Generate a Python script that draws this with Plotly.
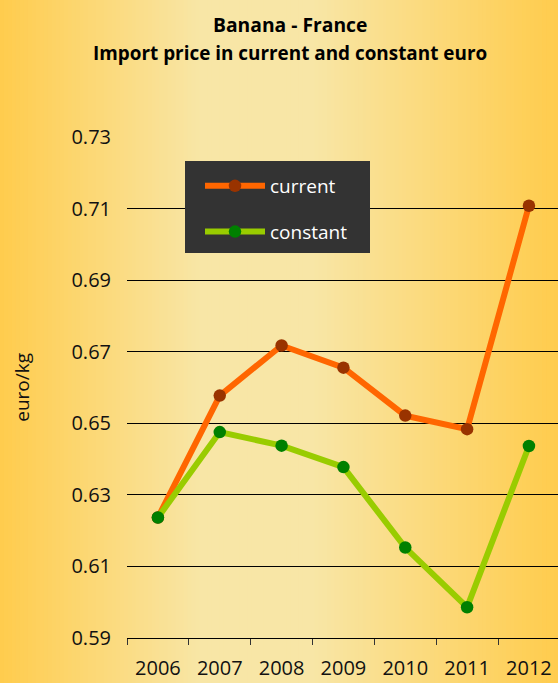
import plotly.graph_objects as go

years = ["2006", "2007", "2008", "2009", "2010", "2011", "2012"]
current = [0.6237, 0.6578, 0.6718, 0.6656, 0.6522, 0.6484, 0.7109]
constant = [0.6237, 0.6476, 0.6438, 0.6378, 0.6153, 0.5986, 0.6437]
y_ticks = [0.59, 0.61, 0.63, 0.65, 0.67, 0.69, 0.71, 0.73]

W, H = 558, 683

fig = go.Figure()
fig.add_trace(go.Scatter(
    x=years, y=current, name="current", mode="lines+markers",
    line=dict(color="#FF6600", width=6),
    marker=dict(color="#993300", size=12.5),
    legendgroup="a",
))
fig.add_trace(go.Scatter(
    x=years, y=constant, name="constant", mode="lines+markers",
    line=dict(color="#99CC00", width=6),
    marker=dict(color="#008000", size=12.5),
    legendgroup="b",
))

# horizontal background gradient (orange edges, pale yellow centre)
stops = [(0.0, (255, 204, 77)), (0.36, (248, 230, 166)), (0.56, (248, 230, 166)), (1.0, (255, 204, 77))]

def col(t):
    for (t0, c0), (t1, c1) in zip(stops[:-1], stops[1:]):
        if t0 <= t <= t1:
            f = (t - t0) / (t1 - t0) if t1 > t0 else 0
            return "rgb(%d,%d,%d)" % tuple(round(a + (b - a) * f) for a, b in zip(c0, c1))
    return "rgb(%d,%d,%d)" % stops[-1][1]

n = 140
shapes = []
for i in range(n):
    x0 = i / n
    x1 = (i + 1) / n
    shapes.append(dict(type="rect", xref="paper", yref="paper", x0=x0, x1=x1 + 0.002,
                       y0=0, y1=1, fillcolor=col((x0 + x1) / 2), line=dict(width=0),
                       layer="below"))

# dark legend panel (the legend itself is drawn on top of it)
shapes.append(dict(type="rect", xref="paper", yref="paper",
                   x0=185 / W, x1=370 / W, y0=1 - 253 / H, y1=1 - 161 / H,
                   fillcolor="#333333", line=dict(width=0), layer="above"))

fig.update_layout(
    width=W, height=H,
    margin=dict(l=0, r=0, t=0, b=0, autoexpand=False),
    paper_bgcolor="rgb(255,204,77)",
    plot_bgcolor="rgba(0,0,0,0)",
    shapes=shapes,
    font=dict(family="Open Sans", color="#111111"),
    showlegend=True,
    legend=dict(
        x=200 / W, y=1 - 167 / H, xanchor="left", yanchor="top",
        bgcolor="rgba(0,0,0,0)", borderwidth=0,
        font=dict(size=19, color="#FFFFFF", family="Open Sans"),
        itemwidth=60, tracegroupgap=18,
    ),
    xaxis=dict(
        domain=[127 / W, 1], type="category", range=[-0.5, 6.47], automargin=False,
        showgrid=False, showline=True, linecolor="#000000", linewidth=1.2,
        ticks="outside", tickson="boundaries", ticklen=6, tickcolor="#333333",
        tickfont=dict(size=20, color="#111111"), ticklabelstandoff=12,
        fixedrange=True,
    ),
    yaxis=dict(
        domain=[(H - 638) / H, (H - 136.7) / H], range=[0.59, 0.7302], automargin=False,
        tickvals=y_ticks, ticktext=["%.2f" % v for v in y_ticks],
        showgrid=True, gridcolor="#000000", gridwidth=1.2,
        showline=False, zeroline=False, ticks="",
        tickfont=dict(size=20, color="#111111"), ticklabelstandoff=15,
        title=dict(text="euro/kg", font=dict(size=19, color="#111111"), standoff=36),
        fixedrange=True,
    ),
    annotations=[
        dict(text="<b>Banana - France</b>", xref="paper", yref="paper",
             x=290 / W, y=1 - 24 / H, xanchor="center", yanchor="middle",
             showarrow=False, font=dict(size=19.3, color="#000000", family="Open Sans")),
        dict(text="<b>Import price in current and constant euro</b>", xref="paper", yref="paper",
             x=290 / W, y=1 - 53 / H, xanchor="center", yanchor="middle",
             showarrow=False, font=dict(size=18.9, color="#000000", family="Open Sans")),
    ],
)

fig.write_html("out.html", config={"displayModeBar": False},
               post_script="document.body.style.margin='0px';document.body.style.overflow='hidden';")
